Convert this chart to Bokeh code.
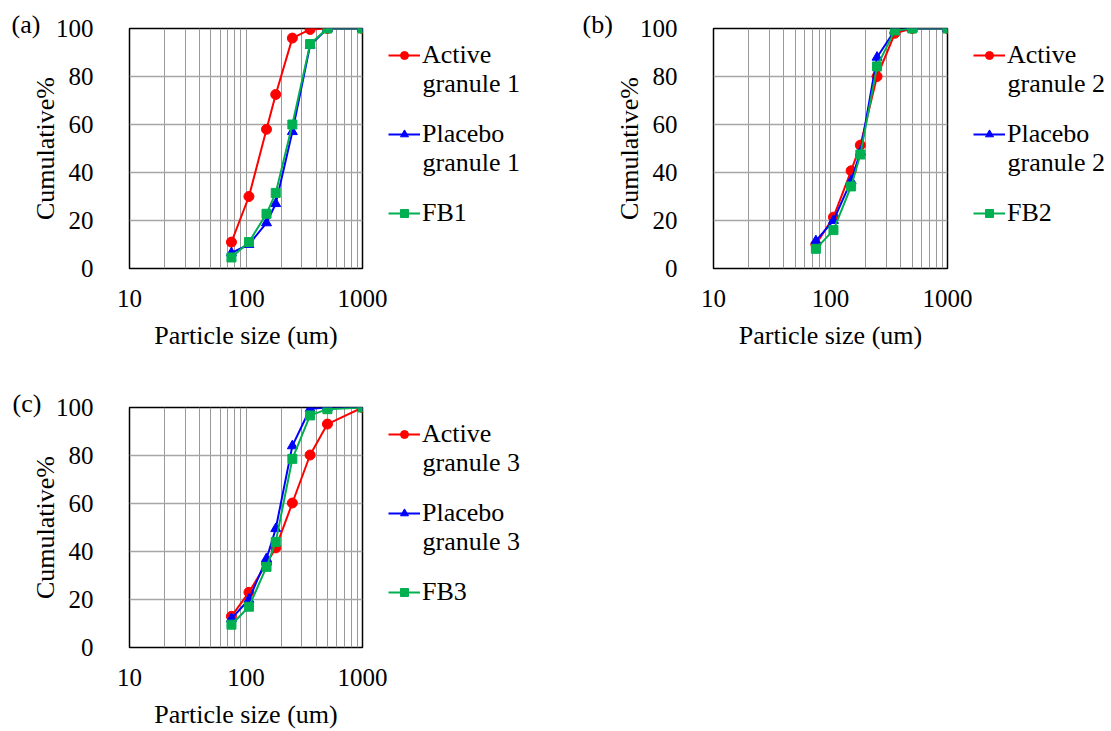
from bokeh.plotting import figure
from bokeh.models import Range1d, FixedTicker, Legend, LegendItem, Title, Label
from bokeh.layouts import column, row
from bokeh.embed import file_html
from bokeh.resources import INLINE

# ---------------- data ----------------
sizes = [75, 106, 150, 180, 250, 355, 500, 1000]

active1 = [11.0, 30.0, 58.0, 72.5, 96.0, 99.6, 100, 100]
placebo1 = [6.5, 10.0, 19.0, 27.0, 57.0, 93.0, 100, 100]
fb1 = [4.6, 11.0, 22.8, 31.5, 60.0, 93.5, 100, 100]

active2 = [10.0, 21.4, 40.7, 51.4, 80.0, 98.0, 100, 100]
placebo2 = [11.5, 20.0, 36.5, 48.5, 88.0, 99.3, 100, 100]
fb2 = [8.2, 16.0, 34.2, 47.5, 84.2, 99.2, 100, 100]

active3 = [13.0, 23.0, 35.0, 41.5, 60.2, 80.2, 93.1, 100]
placebo3 = [12.0, 20.0, 37.0, 49.5, 84.0, 99.5, 100, 100]
fb3 = [9.5, 17.0, 33.6, 44.0, 78.6, 96.7, 99.3, 100]

panel_tags = ["(a)", "(b)", "(c)"]
legend_first = ["Active", "Placebo", "FB{}"]
legend_second = ["granule {}", "granule {}", None]
x_major = [10, 100, 1000]
x_minor = [20, 30, 40, 50, 60, 70, 80, 90, 200, 300, 400, 500, 600, 700, 800, 900]
y_ticks = [0, 20, 40, 60, 80, 100]
x_title = "Particle size (um)"
y_title = "Cumulative%"

FONT = "Liberation Serif"
COLORS = ["#FF0000", "#0000FF", "#00B050"]
MARKERS = ["circle", "triangle", "square"]
MSIZES = [10, 10, 9]


def make_panel(tag, series, width, height, bl, bt, br, bb, tag_offset):
    p = figure(width=width, height=height, x_axis_type="log",
               x_range=Range1d(10, 1000), y_range=Range1d(0, 100),
               output_backend="svg", toolbar_location=None,
               min_border_left=bl, min_border_top=bt,
               min_border_right=br, min_border_bottom=bb)
    p.outline_line_color = "black"
    p.outline_line_width = 1.5

    p.xaxis.ticker = FixedTicker(ticks=x_major, minor_ticks=x_minor)
    p.xaxis.major_label_overrides = {10: "10", 100: "100", 1000: "1000"}
    p.yaxis.ticker = FixedTicker(ticks=y_ticks)

    for ax in (p.xaxis[0], p.yaxis[0]):
        ax.axis_line_color = None
        ax.major_tick_line_color = None
        ax.minor_tick_line_color = None
        ax.major_label_text_font = FONT
        ax.major_label_text_font_size = "25px"
        ax.major_label_text_color = "black"
        ax.axis_label_text_font = FONT
        ax.axis_label_text_font_size = "26px"
        ax.axis_label_text_font_style = "normal"
        ax.axis_label_text_color = "black"

    p.xaxis.axis_label = x_title
    p.yaxis.axis_label = y_title
    p.xaxis.major_label_standoff = 15
    p.xaxis.axis_label_standoff = 11
    p.yaxis.major_label_standoff = 30
    p.yaxis.axis_label_standoff = -7

    p.xgrid.grid_line_color = "#999999"
    p.xgrid.grid_line_width = 1
    p.xgrid.minor_grid_line_color = "#999999"
    p.xgrid.minor_grid_line_width = 1
    p.ygrid.grid_line_color = "#a6a6a6"
    p.ygrid.grid_line_width = 1.5

    for ys, c, m, ms in zip(series, COLORS, MARKERS, MSIZES):
        p.line(sizes, ys, line_color=c, line_width=2)
        p.scatter(sizes, ys, marker=m, size=ms, fill_color=c, line_color=c)

    p.add_layout(Title(text=tag, align="left", offset=tag_offset, standoff=-20,
                       text_font=FONT, text_font_size="26px",
                       text_font_style="normal", text_color="black"), "above")
    return p


def make_legend(series, num, width, height, bt, bb):
    # legend-only figure placed to the right of a panel (frame aligned with the panel's frame)
    q = figure(width=width, height=height, x_range=Range1d(0, 1), y_range=Range1d(0, 1),
               x_axis_location=None, y_axis_location=None,
               output_backend="svg", toolbar_location=None,
               min_border_left=0, min_border_right=0,
               min_border_top=bt, min_border_bottom=bb)
    q.outline_line_color = None
    q.xgrid.visible = False
    q.ygrid.visible = False
    items = []
    for ys, c, m, ms, lab in zip(series, COLORS, MARKERS, MSIZES, legend_first):
        ln = q.line(sizes, ys, line_color=c, line_width=2)
        sc = q.scatter(sizes, ys, marker=m, size=ms, fill_color=c, line_color=c)
        items.append(LegendItem(label=lab.format(num), renderers=[ln, sc]))
    q.add_layout(Legend(items=items, location=(0, 40),
                        border_line_color=None, background_fill_alpha=0,
                        label_text_font=FONT, label_text_font_size="26px",
                        label_text_color="black",
                        glyph_width=32, glyph_height=20, label_standoff=2,
                        spacing=49, padding=0, margin=0))
    for k, sec in enumerate(legend_second):
        if sec is None:
            continue
        q.add_layout(Label(x=34, y=185 - 79 * k, x_units="screen", y_units="screen",
                           text=sec.format(num), text_baseline="alphabetic",
                           text_font=FONT, text_font_size="26px", text_color="black"))
    return q


s1 = [active1, placebo1, fb1]
s2 = [active2, placebo2, fb2]
s3 = [active3, placebo3, fb3]

pa = make_panel(panel_tags[0], s1, 388, 378, 129, 28, 26, 110, -118)
la = make_legend(s1, 1, 187, 378, 28, 110)
pb = make_panel(panel_tags[1], s2, 398, 378, 138, 28, 26, 110, -131)
lb = make_legend(s2, 2, 138, 378, 28, 110)
pc = make_panel(panel_tags[2], s3, 388, 353, 129, 29, 26, 84, -117)
lc = make_legend(s3, 3, 187, 353, 29, 84)

layout = column(row(pa, la, pb, lb), row(pc, lc))
open("out.html", "w").write(file_html(layout, INLINE))
